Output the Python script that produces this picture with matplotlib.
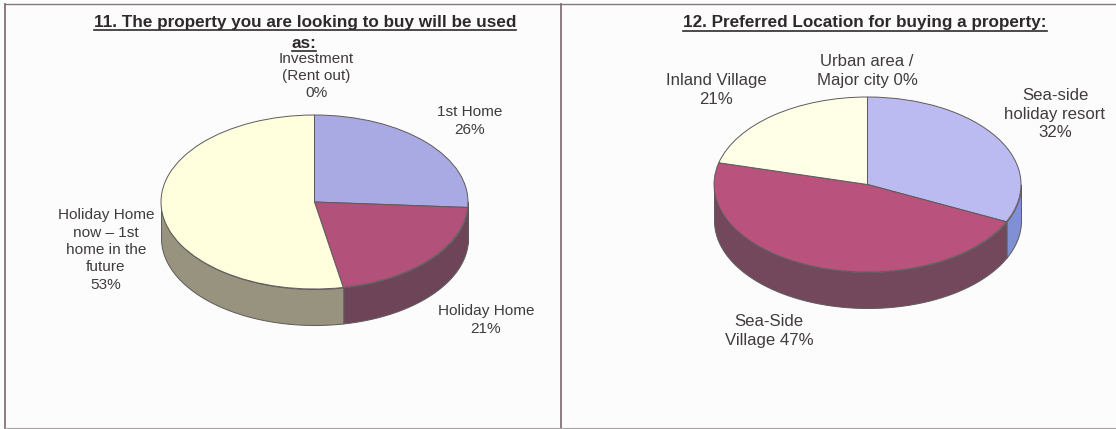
import matplotlib
matplotlib.use('Agg')
import matplotlib.pyplot as plt
import numpy as np

W, H = 1116, 429

plt.rcParams['font.family'] = ['Liberation Sans', 'DejaVu Sans']

# survey answers, clockwise from 12 o'clock
use_labels = ['1st Home', 'Holiday Home', 'Holiday Home\nnow \u2013 1st\nhome in the\nfuture', 'Investment\n(Rent out)']
use_values = [26, 21, 53, 0]
use_title = ['11. The property you are looking to buy will be used', 'as:']

loc_labels = ['Sea-side\nholiday resort', 'Sea-Side\nVillage', 'Inland Village', 'Urban area /\nMajor city']
loc_values = [32, 47, 21, 0]
loc_title = ['12. Preferred Location for buying a property:']

use_top = ['#A9A9E4', '#B2517A', '#FFFEDD', '#FFFFFF']
use_side = ['#7F86C4', '#6E4558', '#97937F', '#FFFFFF']
loc_top = ['#BBBBF2', '#B9527C', '#FFFFE8', '#FFFFFF']
loc_side = ['#8090D4', '#73485C', '#97937F', '#FFFFFF']


def draw_pie(fig, cx, cy, a, b, depth, values, top_cols, side_cols):
    ax = fig.add_axes([(cx - a) / W, 1 - (cy + b) / H, 2 * a / W, 2 * b / H])
    wedges, _ = ax.pie(values, colors=top_cols, startangle=90, counterclock=False, radius=1,
                       wedgeprops={'edgecolor': '#5F5A5A', 'linewidth': 0.7, 'zorder': 3})
    ax.set_aspect('auto')
    for w in wedges:
        w.set_clip_on(False)

    # side wall: only the part of each slice on the front half of the ellipse
    d = depth / b
    end = 90.0
    for val, col in zip(values, side_cols):
        start = end - val * 3.6
        lo = max(start, -180.0)
        hi = min(end, 0.0)
        if hi > lo:
            t = np.radians(np.linspace(lo, hi, 80))
            xs = np.cos(t)
            ax.fill_between(xs, np.sin(t) - d, np.sin(t), color=col, edgecolor='#5F5A5A',
                            linewidth=0.7, zorder=2, clip_on=False)
        end = start
    ax.set_xlim(-1, 1)
    ax.set_ylim(-1, 1)
    ax.axis('off')
    return ax


fig = plt.figure(figsize=(W / 100, H / 100), dpi=100, facecolor='#FDFCFD')

# pixel-space layer for the table rules and the text
page = fig.add_axes([0, 0, 1, 1], zorder=5)
page.set_xlim(0, W)
page.set_ylim(H, 0)
page.axis('off')
page.patch.set_alpha(0)

page.plot([5, 1116], [4, 4], color='#807A7C', lw=1.0)
page.plot([5, 5], [4, 429], color='#77666C', lw=1.2)
page.plot([561, 561], [4, 429], color='#77666C', lw=1.2)
page.plot([5, 1116], [428, 428], color='#A8A4A6', lw=0.8)

draw_pie(fig, 314.5, 202, 153.5, 87, 36, use_values, use_top, use_side)
draw_pie(fig, 867.5, 184.5, 153.5, 87.5, 36, loc_values, loc_top, loc_side)

txt = '#403C3E'


def title_line(s, x, y):
    t = page.text(x, y, s, ha='center', va='center', fontsize=12.3, fontweight='bold', color='#2E2A2C')
    fig.canvas.draw()
    bb = t.get_window_extent()
    page.plot([bb.x0, bb.x1], [y + 8, y + 8], color='#2E2A2C', lw=1.2)


title_line(use_title[0], 305, 22)
title_line(use_title[1], 304, 43)
title_line(loc_title[0], 865, 23)


def slice_label(label, value, x, y, size, spacing, sep=' '):
    page.text(x, y, f'{label}{sep}{value}%', ha='center', va='center', fontsize=size,
              color=txt, linespacing=spacing)


slice_label(use_labels[0], use_values[0], 470, 121, 11.1, 1.3, '\n')
slice_label(use_labels[1], use_values[1], 486, 320, 11.1, 1.3, '\n')
slice_label(use_labels[2], use_values[2], 106, 250, 11.1, 1.3, '\n')
slice_label(use_labels[3], use_values[3], 316, 76, 11.1, 1.3, '\n')

slice_label(loc_labels[0], loc_values[0], 1055, 114, 12.1, 1.33, '\n')
slice_label(loc_labels[1], loc_values[1], 769, 331, 12.1, 1.33)
slice_label(loc_labels[2], loc_values[2], 716, 90, 12.1, 1.33, '\n')
slice_label(loc_labels[3], loc_values[3], 867, 71, 12.1, 1.33)

fig.savefig('out.png', dpi=100, facecolor=fig.get_facecolor())
